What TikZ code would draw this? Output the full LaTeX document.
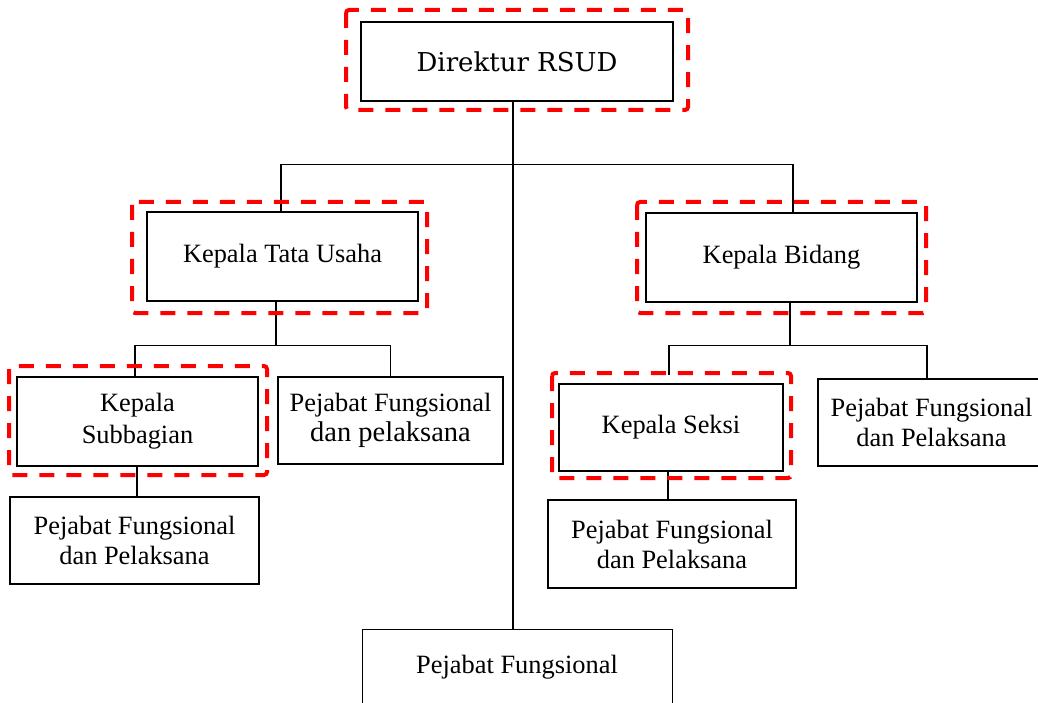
\documentclass[tikz,border=0pt]{standalone}
\usepackage{fontspec}
\setmainfont{Liberation Serif}
\newfontfamily\headfont{DejaVu Serif}
\begin{document}
\begin{tikzpicture}[x=1pt,y=-1pt,
  box/.style={draw=black, line width=2.5pt, rectangle, inner sep=0pt, align=center,
    font=\fontsize{26.4}{30}\selectfont},
  thinbox/.style={draw=black, line width=1pt, rectangle, inner sep=0pt, align=center,
    font=\fontsize{26.4}{30}\selectfont},
  link/.style={draw=black, line width=1.1pt},
  frame/.style={draw=red, line width=4pt, dash pattern=on 15pt off 12pt, rounded corners=3pt}
]
\clip (0,0) rectangle (1038,703);
\fill[white] (0,0) rectangle (1038,703);

% ---- boxes ----
\node[box, minimum width=312pt, minimum height=79pt, font=\headfont\fontsize{26}{30}\selectfont]
  (dir) at (517,61.5) {Direktur RSUD};
\node[box, minimum width=271pt, minimum height=89pt] (tu)  at (282.5,256.5) {Kepala Tata Usaha};
\node[box, minimum width=271pt, minimum height=89pt] (bid) at (781.5,257.5) {Kepala Bidang};
\node[box, minimum width=241pt, minimum height=89pt, font=\fontsize{26.4}{32}\selectfont]
  (sub) at (137.5,421.5) {Kepala\\Subbagian};
\node[box, minimum width=225pt, minimum height=87pt] (pfl) at (390.5,420.5)
  {Pejabat Fungsional\\{\fontsize{28.5}{30}\selectfont dan pelaksana}};
\node[box, minimum width=249pt, minimum height=87pt] (pfs) at (134.5,540.5)
  {Pejabat Fungsional\\dan Pelaksana};
\node[box, minimum width=224pt, minimum height=87pt] (seksi) at (671,427.5) {Kepala Seksi};
\node[box, minimum width=248pt, minimum height=88pt] (pfk) at (672,544)
  {Pejabat Fungsional\\dan Pelaksana};
\node[box, minimum width=227pt, minimum height=87pt] (pfr) at (931.5,422.5)
  {Pejabat Fungsional\\dan Pelaksana};
\node[thinbox, anchor=north, minimum width=310pt, inner ysep=26pt, text depth=60pt]
  (pfb) at (517,629) {Pejabat Fungsional};

% ---- connectors ----
\draw[link] ([xshift=-4pt]dir.south) -- ([xshift=-4pt]pfb.north);
\draw[link] ([xshift=-1.5pt]tu.north) -- ++(0,-46) -| ([xshift=11.5pt]bid.north);
\draw[link] ([xshift=-6.5pt]tu.south) -- ++(0,43) coordinate (ja);
\draw[link] ([xshift=-2.5pt]sub.north) |- (ja) -| (pfl.north);
\draw[link] ([xshift=-0.5pt]sub.south) -- ([xshift=2.5pt]pfs.north);
\draw[link] ([xshift=8.5pt]bid.south) -- ++(0,42) coordinate (jb);
\draw[link] ([xshift=-2pt,yshift=8pt]seksi.north) |- (jb) -| ([xshift=-4.5pt]pfr.north);
\draw[link] ([xshift=-3pt]seksi.south) -- ([xshift=-4pt]pfk.north);

% ---- dashed red frames ----
\draw[frame] (346,10) rectangle (688,110);
\draw[frame] (132,202) rectangle (427,313);
\draw[frame] (637,202) rectangle (926,313);
\draw[frame] (9,366) rectangle (267,475);
\draw[frame] (552,373) rectangle (791,478);
\end{tikzpicture}
\end{document}
